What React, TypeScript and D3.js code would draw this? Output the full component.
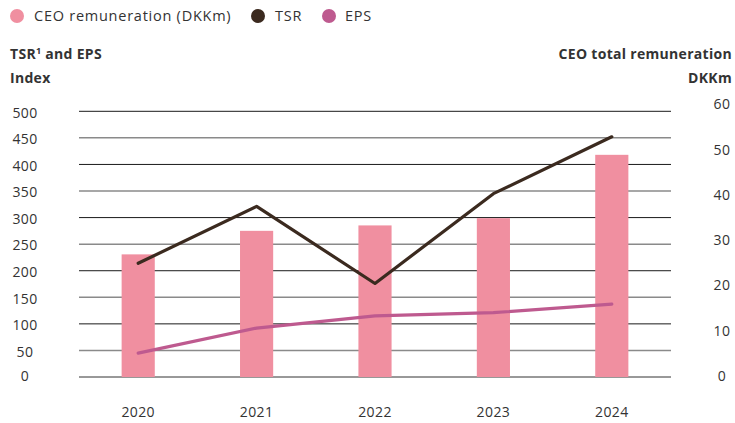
import React from "react";
import * as d3 from "d3";

const years = ["2020", "2021", "2022", "2023", "2024"];
const ceoRemuneration = [27.1, 32.3, 33.5, 35.1, 49.1];
const tsr = [214, 321, 176, 345, 452];
const eps = [45, 92, 115, 121, 137];
const leftTicks = [0, 50, 100, 150, 200, 250, 300, 350, 400, 450, 500];
const rightTicks = [0, 10, 20, 30, 40, 50, 60];

const W = 735;
const H = 423;
const FONT = "'Open Sans', sans-serif";
const TEXT = "#333333";
const BAR = "#F08FA0";
const TSR_C = "#3B2A1F";
const EPS_C = "#BE5A8F";

export default function App() {
  const x = d3.scaleBand<string>().domain(years).range([79, 671]).paddingInner(0.72).paddingOuter(0.36);
  const xc = (d: string) => (x(d) as number) + x.bandwidth() / 2;
  const yL = d3.scaleLinear().domain([0, 500]).range([377, 111.3]);
  const yR = d3.scaleLinear().domain([0, 60]).range([377, 105.5]);

  const lineL = d3
    .line<number>()
    .x((_, i) => xc(years[i]))
    .y((v) => yL(v));

  return (
    <svg width={W} height={H} style={{ position: "absolute", left: 0, top: 0, background: "#fff" }} fontFamily={FONT}>
      {/* legend */}
      <g fontSize={14.5} fill={TEXT} letterSpacing={0.75}>
        <circle cx={17} cy={16} r={7} fill={BAR} />
        <text x={34} y={21}>CEO remuneration (DKKm)</text>
        <circle cx={258} cy={16} r={7} fill={TSR_C} />
        <text x={275} y={21}>TSR</text>
        <circle cx={329} cy={16} r={7} fill={EPS_C} />
        <text x={345} y={21}>EPS</text>
      </g>
      {/* axis titles */}
      <g fontSize={14} fontWeight={700} fill={TEXT} letterSpacing={0.3}>
        <text x={10} y={59}>
          TSR<tspan fontSize={9} dy={-5}>1</tspan>
          <tspan dy={5}> and EPS</tspan>
        </text>
        <text x={10} y={83}>Index</text>
        <text x={732} y={59} textAnchor="end">CEO total remuneration</text>
        <text x={732} y={83} textAnchor="end">DKKm</text>
      </g>
      {/* gridlines */}
      {leftTicks.map((t, i) => (
        <line
          key={t}
          x1={79}
          x2={671}
          y1={yL(t)}
          y2={yL(t)}
          stroke={i % 2 === 0 ? (t === 0 ? "#333" : "#1a1a1a") : "#8a8a8a"}
          strokeWidth={i % 2 === 0 ? 1 : 1.5}
        />
      ))}
      {/* left tick labels */}
      <g fontSize={14} fill={TEXT} textAnchor="middle" letterSpacing={0.4}>
        {leftTicks.map((t) => (
          <text key={t} x={25} y={yL(t) + (t === 0 ? 0 : 2.5)} dominantBaseline="middle">
            {t}
          </text>
        ))}
      </g>
      {/* right tick labels */}
      <g fontSize={14} fill={TEXT} textAnchor="middle" letterSpacing={0.4}>
        {rightTicks.map((t) => (
          <text key={t} x={722} y={yR(t)} dominantBaseline="middle">
            {t}
          </text>
        ))}
      </g>
      {/* bars */}
      {years.map((yr, i) => (
        <rect
          key={yr}
          x={x(yr)}
          width={x.bandwidth()}
          y={yR(ceoRemuneration[i])}
          height={yR(0) - yR(ceoRemuneration[i])}
          fill={BAR}
        />
      ))}
      {/* lines */}
      <path d={lineL(tsr) || ""} fill="none" stroke={TSR_C} strokeWidth={3.2} strokeLinecap="round" strokeLinejoin="round" />
      <path d={lineL(eps) || ""} fill="none" stroke={EPS_C} strokeWidth={3.2} strokeLinecap="round" strokeLinejoin="round" />
      {/* x labels */}
      <g fontSize={14} fill={TEXT} textAnchor="middle" letterSpacing={0.4}>
        {years.map((yr) => (
          <text key={yr} x={xc(yr)} y={413} dominantBaseline="middle">
            {yr}
          </text>
        ))}
      </g>
    </svg>
  );
}
